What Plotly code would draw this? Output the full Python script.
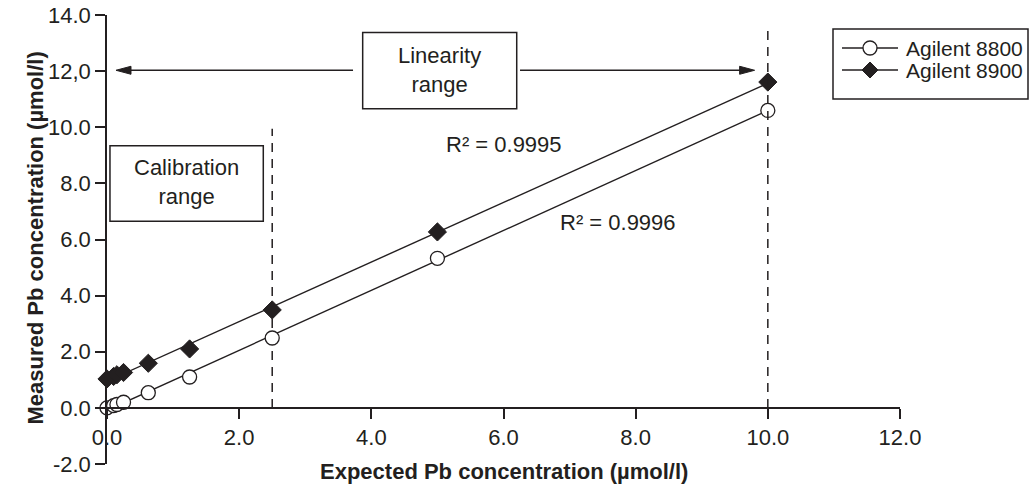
import numpy as np
import plotly.graph_objects as go

# Expected Pb concentration (µmol/l) and measured values per instrument
expected = [0.0, 0.1, 0.15, 0.25, 0.625, 1.25, 2.5, 5.0, 10.0]
agilent_8800 = [0.0, 0.08, 0.12, 0.20, 0.54, 1.10, 2.49, 5.33, 10.60]
agilent_8900 = [1.03, 1.12, 1.18, 1.26, 1.59, 2.10, 3.49, 6.27, 11.61]

series_names = ["Agilent 8800", "Agilent 8900"]
r2_labels = ["R² = 0.9996", "R² = 0.9995"]

y_tickvals = [-2, 0, 2, 4, 6, 8, 10, 12, 14]
y_ticktext = ["-2.0", "0.0", "2.0", "4.0", "6.0", "8.0", "10.0", "12,0", "14.0"]
x_tickvals = [0, 2, 4, 6, 8, 10, 12]
x_ticktext = ["0.0", "2.0", "4.0", "6.0", "8.0", "10.0", "12.0"]

INK = "#231f20"
FONT = "Liberation Sans, Arial, Helvetica, sans-serif"

# plot area in pixels (left, right, top, bottom) for placing paper-anchored items
L, R, T, B = 107, 900, 15, 464


def px(xp):
    return (xp - L) / (R - L)


def py(yp):
    return (B - yp) / (B - T)


fig = go.Figure()

markers = [
    dict(symbol="circle", size=14, color="white", line=dict(color=INK, width=1.3)),
    dict(symbol="diamond", size=14, color=INK, line=dict(color=INK, width=1)),
]

for name, ys, mk in zip(series_names, [agilent_8800, agilent_8900], markers):
    xs = np.array(expected)
    slope, intercept = np.polyfit(xs, np.array(ys), 1)
    x_fit = np.array([0.0, 10.0])
    # least-squares calibration line
    fig.add_trace(go.Scatter(
        x=x_fit, y=slope * x_fit + intercept, mode="lines",
        line=dict(color=INK, width=1.4), showlegend=False, hoverinfo="skip",
        cliponaxis=False,
    ))
    # measured points
    fig.add_trace(go.Scatter(
        x=expected, y=ys, mode="markers", marker=mk, name=name,
        showlegend=False, cliponaxis=False,
    ))

shapes = []
line_style = dict(color=INK, width=1.5)

# vertical dashed limits of the calibration and linearity ranges
dash_style = dict(color=INK, width=1.5, dash="9px,7px")
shapes.append(dict(type="line", x0=2.5, x1=2.5, y0=0, y1=9.95, line=dash_style, layer="below"))
shapes.append(dict(type="line", x0=10, x1=10, y0=0, y1=13.66, line=dash_style))

# labelled boxes
shapes.append(dict(type="rect", x0=0.045, x1=2.365, y0=6.65, y1=9.34,
                   line=line_style, fillcolor="white"))
shapes.append(dict(type="rect", x0=3.869, x1=6.200, y0=10.66, y1=13.38,
                   line=line_style, fillcolor="white"))

# linearity-range arrow, split around the box
ay = 12.03
head_len, head_half = 15 / 66.08, 4 / 28.06
left_tip, left_tail = 0.136, 3.723
right_tip, right_tail = 9.80, 6.25
shapes.append(dict(type="line", x0=left_tail, x1=left_tip + head_len * 0.5, y0=ay, y1=ay, line=line_style))
shapes.append(dict(type="line", x0=right_tail, x1=right_tip - head_len * 0.5, y0=ay, y1=ay, line=line_style))
shapes.append(dict(
    type="path",
    path=f"M {left_tip},{ay} L {left_tip + head_len},{ay + head_half} L {left_tip + head_len},{ay - head_half} Z",
    fillcolor=INK, line=dict(color=INK, width=1),
))
shapes.append(dict(
    type="path",
    path=f"M {right_tip},{ay} L {right_tip - head_len},{ay + head_half} L {right_tip - head_len},{ay - head_half} Z",
    fillcolor=INK, line=dict(color=INK, width=1),
))

# legend: frame, line samples and symbols
shapes.append(dict(type="rect", xref="paper", yref="paper",
                   x0=px(833), x1=px(1028), y0=py(99), y1=py(29),
                   line=line_style, fillcolor="white"))
legend_rows = [48, 70]
for row in legend_rows:
    shapes.append(dict(type="line", xref="paper", yref="paper",
                       x0=px(842), x1=px(898), y0=py(row), y1=py(row),
                       line=dict(color=INK, width=1.4)))
shapes.append(dict(type="circle", xref="paper", yref="paper",
                   x0=px(863), x1=px(877), y0=py(legend_rows[0] + 7), y1=py(legend_rows[0] - 7),
                   line=dict(color=INK, width=1.3), fillcolor="white"))
cx, cy, h = 870, legend_rows[1], 8
shapes.append(dict(
    type="path", xref="paper", yref="paper",
    path=(f"M {px(cx - h)},{py(cy)} L {px(cx)},{py(cy - h)} "
          f"L {px(cx + h)},{py(cy)} L {px(cx)},{py(cy + h)} Z"),
    fillcolor=INK, line=dict(color=INK, width=1),
))

text_font = dict(size=22, color=INK, family=FONT)
annotations = [
    dict(x=1.203, y=8.05, text="Calibration<br>range", showarrow=False, font=text_font),
    dict(x=5.034, y=12.05, text="Linearity<br>range", showarrow=False, font=text_font),
    dict(x=7.73, y=6.60, text=r2_labels[0], showarrow=False, font=text_font),
    dict(x=6.0, y=9.38, text=r2_labels[1], showarrow=False, font=text_font),
    # axis titles
    dict(xref="paper", yref="paper", x=0.5, y=py(472), yanchor="middle",
         text="<b>Expected Pb concentration (µmol/l)</b>", showarrow=False,
         font=dict(size=22, color=INK, family=FONT)),
    dict(xref="paper", yref="paper", x=px(21), y=py(238), textangle=-90,
         text="<b>Measured Pb concentration (µmol/l)</b>", showarrow=False,
         font=dict(size=22, color=INK, family=FONT)),
]
for row, name in zip(legend_rows, series_names):
    annotations.append(dict(xref="paper", yref="paper", x=px(904), y=py(row),
                            xanchor="left", yanchor="middle", text=name,
                            showarrow=False, font=dict(size=21, color=INK, family=FONT)))

fig.update_layout(
    template="none",
    width=1031, height=486,
    margin=dict(l=L, r=1031 - R, t=T, b=486 - B, autoexpand=False),
    paper_bgcolor="white", plot_bgcolor="white",
    font=dict(family=FONT, size=21, color=INK),
    showlegend=False,
    shapes=shapes,
    annotations=annotations,
    xaxis=dict(
        range=[0, 12], anchor="free", position=0.125, automargin=False,
        tickvals=x_tickvals, ticktext=x_ticktext,
        showgrid=False, zeroline=False, showline=True, linecolor=INK, linewidth=1.5,
        ticks="outside", ticklen=10, tickwidth=1.5, tickcolor=INK,
        tickfont=dict(size=22, color=INK, family=FONT),
    ),
    yaxis=dict(
        range=[-2, 14], automargin=False,
        tickvals=y_tickvals, ticktext=y_ticktext,
        showgrid=False, zeroline=False, showline=True, linecolor=INK, linewidth=1.5,
        ticks="outside", ticklen=10, tickwidth=1.5, tickcolor=INK,
        tickfont=dict(size=22, color=INK, family=FONT),
    ),
)

fig.write_html("out.html")
